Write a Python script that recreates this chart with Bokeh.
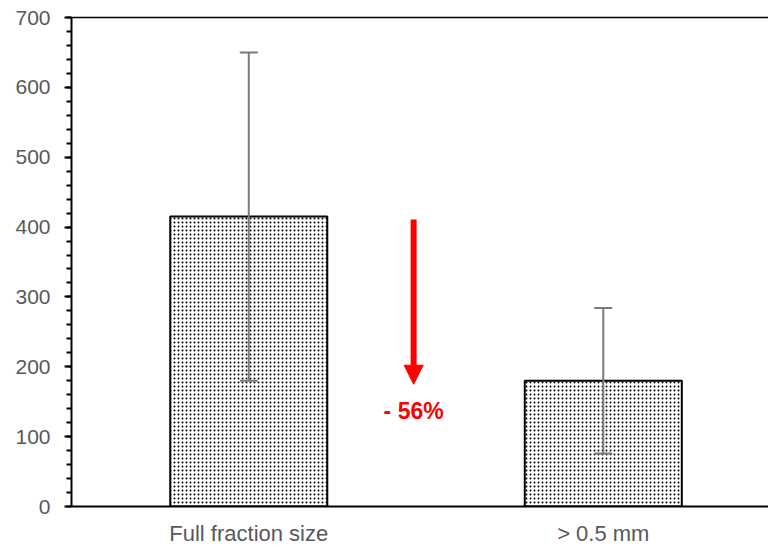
from bokeh.plotting import figure
from bokeh.models import (ColumnDataSource, Whisker, TeeHead, Arrow, NormalHead,
                          FixedTicker, LinearAxis, Label, Range1d)
from bokeh.embed import file_html
from bokeh.resources import INLINE

categories = ["Full fraction size", "> 0.5 mm"]
means = [415, 180]
errors = [235, 104]
y_ticks = [0, 100, 200, 300, 400, 500, 600, 700]
change_label = "- 56%"

x_pos = [i + 0.5 for i in range(len(categories))]
src = ColumnDataSource(dict(
    x=x_pos, top=means,
    upper=[m + e for m, e in zip(means, errors)],
    lower=[m - e for m, e in zip(means, errors)],
))

FONT = "Liberation Sans"
GRAY = "#595959"

p = figure(width=768, height=548, output_backend="svg", toolbar_location=None,
           x_range=Range1d(0, 1.966), y_range=Range1d(0, 700),
           min_border_left=71, min_border_top=17, min_border_bottom=42,
           min_border_right=0)
p.outline_line_color = None
p.xgrid.visible = False
p.ygrid.visible = False

p.vbar(x="x", top="top", width=0.443, bottom=0, source=src,
       fill_color="white", line_color="black", line_width=2,
       hatch_pattern="dot", hatch_color="black", hatch_scale=4, hatch_weight=2.5)

w = Whisker(source=src, base="x", upper="upper", lower="lower", level="overlay",
            line_color="#7a7a7a", line_width=2,
            upper_head=TeeHead(size=18, line_color="#7a7a7a", line_width=2),
            lower_head=TeeHead(size=18, line_color="#7a7a7a", line_width=2))
p.add_layout(w)

# annotation arrow and label
arrow_x = 0.965
p.add_layout(Arrow(x_start=arrow_x, y_start=411, x_end=arrow_x, y_end=175,
                   line_color="#ff0000", line_width=6,
                   end=NormalHead(size=19, fill_color="#ff0000", line_color="#ff0000")))
p.add_layout(Label(x=arrow_x, y=137, text=change_label, text_color="#ff0000",
                   text_font=FONT, text_font_size="23px", text_font_style="bold",
                   text_align="center", text_baseline="middle"))

# y axis
ya = p.yaxis[0]
ya.ticker = FixedTicker(ticks=y_ticks, minor_ticks=list(range(0, 701, 20)))
ya.axis_line_color = "black"
ya.axis_line_width = 2
ya.major_tick_line_color = "black"
ya.major_tick_line_width = 2
ya.major_tick_out = 7
ya.major_tick_in = 0
ya.minor_tick_line_color = "black"
ya.minor_tick_line_width = 2
ya.minor_tick_out = 5
ya.minor_tick_in = 0
ya.major_label_text_font = FONT
ya.major_label_text_font_size = "21px"
ya.major_label_text_color = GRAY
ya.major_label_standoff = 14

# x axis
xa = p.xaxis[0]
xa.ticker = FixedTicker(ticks=x_pos)
xa.major_label_overrides = {x: c for x, c in zip(x_pos, categories)}
xa.axis_line_color = "black"
xa.axis_line_width = 2
xa.major_tick_line_color = None
xa.minor_tick_line_color = None
xa.major_tick_out = 0
xa.major_tick_in = 0
xa.major_label_text_font = FONT
xa.major_label_text_font_size = "22px"
xa.major_label_text_color = GRAY
xa.major_label_standoff = 14

# top border line
top = LinearAxis(ticker=FixedTicker(ticks=[]), axis_line_color="black",
                 axis_line_width=1.5, major_tick_line_color=None,
                 minor_tick_line_color=None, major_label_text_font_size="0px")
p.add_layout(top, "above")

open("out.html", "w").write(file_html(p, INLINE))
